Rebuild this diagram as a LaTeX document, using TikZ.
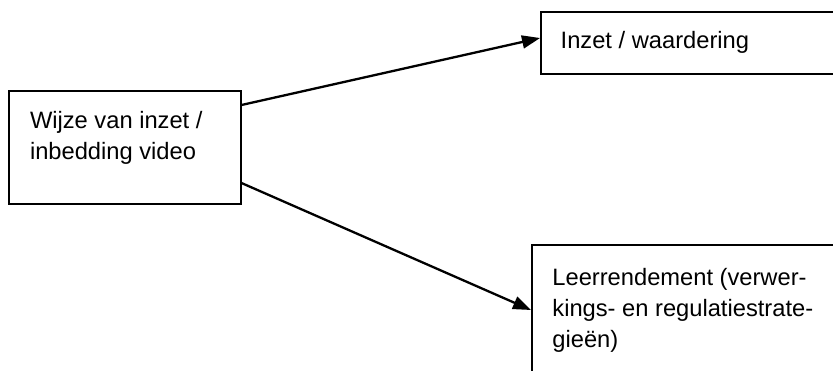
\documentclass[tikz,border=0pt]{standalone}
\usepackage{fontspec}
\setmainfont{Liberation Sans}
\usetikzlibrary{arrows.meta}
\newcommand{\boxtxt}[5]{\parbox[c][#2][t]{#1}{\fontsize{23.7pt}{31pt}\selectfont\raggedright\leftskip=#3\relax\rule{0pt}{#4}#5\par}}
\tikzset{
  boxnode/.style={draw, line width=2pt, inner sep=0pt, anchor=north west},
  arrowline/.style={line width=2.3pt, -{Triangle[length=18pt,width=13pt]}}
}
\begin{document}
\begin{tikzpicture}[x=1pt,y=-1pt]
\clip (0,0) rectangle (833,370);
\node[boxnode] (wijze) at (7.5,89.5)
  {\boxtxt{232pt}{113pt}{21.5pt}{37.5pt}{Wijze van inzet /\\inbedding video}};
\node[boxnode] (inzet) at (540,11)
  {\boxtxt{320pt}{62pt}{19.7pt}{36pt}{Inzet / waardering}};
\node[boxnode] (leer) at (531,244)
  {\boxtxt{320pt}{160pt}{20.4pt}{40pt}{Leerrendement (verwer-\\kings- en regulatiestrate-\\gieën)}};
\draw[arrowline] ([yshift=-15.5pt]wijze.north east) -- ([yshift=-27pt]inzet.north west);
\draw[arrowline] ([yshift=21.5pt]wijze.south east) -- ([yshift=-66pt]leer.north west);
\end{tikzpicture}
\end{document}
